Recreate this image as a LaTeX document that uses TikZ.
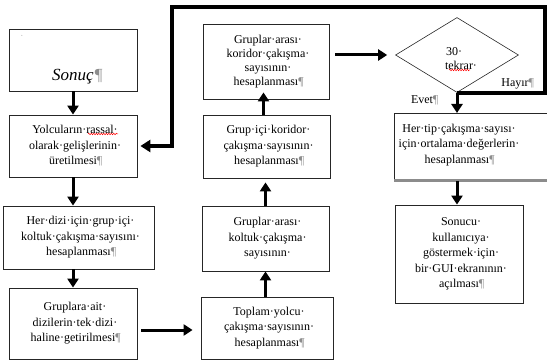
\documentclass[tikz,border=0pt]{standalone}
\usepackage{fontspec}
\setmainfont{Liberation Serif}
\usetikzlibrary{arrows.meta,shapes.geometric,decorations.pathmorphing}
\newcommand\pil{\rlap{\textcolor{black!45}{¶}}}
\newcommand\tsp{\rlap{·}}
\begin{document}
\begin{tikzpicture}[x=1pt,y=-1pt,
  box/.style={draw=black!85,line width=0.8pt,inner sep=0pt},
  txt/.style={align=center,font=\fontsize{12}{15.5}\selectfont,inner sep=0pt},
  arr/.style={line width=3pt,-{Triangle[length=9pt,width=11pt]}},
  loopline/.style={line width=3.8pt,line join=miter},
  wavy/.style={red,line width=0.5pt,decorate,decoration={snake,amplitude=0.7pt,segment length=2.5pt}},
]
\useasboundingbox (0,0) rectangle (547,361);

% left column
\node[box,minimum width=128,minimum height=62] (sonuc) at (73,60) {};
\node[txt,font=\fontsize{17}{20}\selectfont\itshape] (sonuctxt) at (73,77) {Sonuç\pil};
\node[txt,text=black!40,font=\fontsize{8}{8}\selectfont] (dot) at (22,37) {·};
\node[box,txt,minimum width=128,minimum height=62] (yolcu) at (73,146)
  {Yolcuların·rassal\tsp\\olarak·gelişlerinin\tsp\\üretilmesi\pil};
\node[box,txt,minimum width=151,minimum height=63] (herdizi) at (78.5,237.5)
  {Her·dizi·için·grup·içi\tsp\\koltuk·çakışma·sayısını\tsp\\hesaplanması\pil};
\node[box,txt,minimum width=128,minimum height=71] (gruplara) at (73,323.5)
  {Gruplara·ait\tsp\\dizilerin·tek·dizi\tsp\\haline·getirilmesi\pil};

% middle column
\node[box,txt,minimum width=132,minimum height=62] (toplam) at (267,328)
  {Toplam·yolcu\tsp\\çakışma·sayısının\tsp\\hesaplanması\pil};
\node[box,txt,minimum width=127,minimum height=65] (koltuk) at (265.5,238.5)
  {Gruplar·arası\tsp\\koltuk·çakışma\tsp\\sayısının\tsp};
\node[box,txt,minimum width=127,minimum height=63] (gicikor) at (266.5,146.5)
  {Grup·içi·koridor\tsp\\çakışma·sayısının\tsp\\hesaplanması\pil};
\node[box,txt,font=\fontsize{12}{14}\selectfont,minimum width=126,minimum height=75] (koridor) at (266,61.5)
  {Gruplar·arası\tsp\\koridor·çakışma\tsp\\sayısının\tsp\\hesaplanması\pil};

% right column
\node[diamond,draw=black!85,line width=0.6pt,inner sep=0pt,minimum width=123,minimum height=75] (dia) at (457,55) {};
\node[txt] (d30) at (452,52) {30\tsp};
\node[txt] (dtek) at (459,65) {tekrar\tsp};
\node[box,minimum width=170,minimum height=67,anchor=north west] (hertip) at (394,113) {};
\draw[black!45,line width=3pt] (hertip.south west) -- (hertip.south east);
\node[txt] (hertiptxt) at (457,145)
  {Her·tip·çakışma·sayısı\tsp\\için·ortalama·değerlerin\tsp\\hesaplanması\pil};
\node[box,txt,minimum width=128,minimum height=98] (sonucu) at (459,254)
  {Sonucu\tsp\\kullanıcıya\tsp\\göstermek·için\tsp\\bir·GUI·ekranının\tsp\\açılması\pil};

\node[txt] (evet) at (422,100) {Evet\pil};
\node[txt] (hayir) at (515,84) {Hayır\pil};

% red wavy underlines
\draw[wavy] (88,134) -- (118,134);
\draw[wavy] (449,70) -- (470,70);

% arrows
\draw[arr] (sonuc.south) -- (yolcu.north);
\draw[arr] (yolcu.south) -- (yolcu.south |- herdizi.north);
\draw[arr] (yolcu.south |- herdizi.south) -- (yolcu.south |- gruplara.north);
\draw[arr,shorten <=4pt,shorten >=8pt] ([yshift=-6.5pt]gruplara.east) -- ([yshift=-6.5pt]gruplara.east -| toplam.west);
\draw[arr] (koltuk.south |- toplam.north) -- (koltuk.south);
\draw[arr,shorten >=4pt] (koltuk.north) -- (koltuk.north |- gicikor.south);
\draw[arr,shorten >=-7pt] ([xshift=-3pt]gicikor.north) -- ([xshift=-3pt]gicikor.north |- koridor.south);
\draw[arr,shorten <=6pt,shorten >=8pt] (koridor.east |- dia.west) -- (dia.west);
\draw[arr] (dia.south) -- (dia.south |- hertip.north);
\draw[arr] (hertiptxt |- hertip.south) -- (hertiptxt |- sonucu.north);

% loop back
\coordinate (c1) at (545,93);
\coordinate (c2) at (545,7);
\coordinate (c3) at (172,7);
\draw[loopline,-{Triangle[length=10pt,width=12pt]},shorten >=3pt] (dia.south |- c1) -- (c1) -- (c2) -- (c3) |- (yolcu.east);
\end{tikzpicture}
\end{document}
